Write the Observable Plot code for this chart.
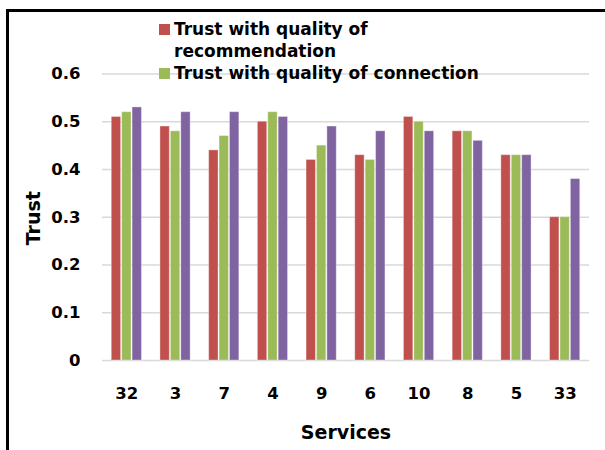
<!DOCTYPE html>
<html>
<head>
<meta charset="utf-8">
<script src="https://cdn.jsdelivr.net/npm/d3@7"></script>
<script src="https://cdn.jsdelivr.net/npm/@observablehq/plot@0.6"></script>
<style>
  html, body { margin: 0; padding: 0; background: #fff; }
  #wrap { position: relative; width: 605px; height: 450px; overflow: hidden; font-family: "DejaVu Sans", sans-serif; }
  #wrap > svg { position: absolute; left: 0; top: 0; }
  #frame { position: absolute; left: 6px; top: 9px; width: 700px; height: 600px; border-top: 3px solid #000; border-left: 3px solid #000; }
  #legend { position: absolute; left: 159px; top: 18px; font-weight: 700; font-size: 17px; color: #000; line-height: 22px; }
  .item { display: flex; align-items: flex-start; }
  .sw { width: 11px; height: 11px; margin-top: 6px; margin-right: 4px; flex: none; }
  svg text { font-family: "DejaVu Sans", sans-serif; }
</style>
</head>
<body>
<div id="wrap"></div>
<script>
const services = ["32", "3", "7", "4", "9", "6", "10", "8", "5", "33"];
const seriesNames = ["Trust with quality of recommendation", "Trust with quality of connection", "Series 3"];
const recommendation = [0.51, 0.49, 0.44, 0.50, 0.42, 0.43, 0.51, 0.48, 0.43, 0.30];
const connection     = [0.52, 0.48, 0.47, 0.52, 0.45, 0.42, 0.50, 0.48, 0.43, 0.30];
const series3        = [0.53, 0.52, 0.52, 0.51, 0.49, 0.48, 0.48, 0.46, 0.43, 0.38];
const colors = ["#C0504D", "#9BBB59", "#8064A2"];
const yTicks = [0, 0.1, 0.2, 0.3, 0.4, 0.5, 0.6];
const yTitle = ["Trust"];
const xTitle = ["Services"];
const legendLines = [["Trust with quality of", "recommendation"], ["Trust with quality of connection"]];

const valuesBySeries = [recommendation, connection, series3];
const data = [];
services.forEach((s, i) => {
  valuesBySeries.forEach((vals, j) => data.push({service: s, series: seriesNames[j], value: vals[i]}));
});

const common = {
  width: 605,
  height: 450,
  marginLeft: 102,
  marginRight: 16,
  marginTop: 73.5,
  marginBottom: 90,
  style: {fontFamily: "DejaVu Sans, sans-serif", background: "transparent", overflow: "visible"}
};

// background: gridlines, y axis and axis titles, spanning the whole plot width
const back = Plot.plot({
  ...common,
  y: {domain: [0, 0.6]},
  marks: [
    Plot.gridY(yTicks, {stroke: "#D9D9D9", strokeOpacity: 1, strokeWidth: 1.5}),
    Plot.axisY(yTicks, {
      anchor: "left", tickSize: 0, tickPadding: 22,
      tickFormat: d => d === 0 ? "0" : d.toFixed(1),
      fontSize: 16.5, fontWeight: 700, fill: "#000",
      label: null
    }),
    Plot.text(yTitle, {text: d => d, frameAnchor: "left", dx: -69, dy: 1, rotate: -90, textAnchor: "middle", lineAnchor: "middle", fontSize: 19, fontWeight: 700, fill: "#000"}),
    Plot.text(xTitle, {text: d => d, frameAnchor: "bottom", dy: 72, textAnchor: "middle", lineAnchor: "middle", fontSize: 19, fontWeight: 700, fill: "#000"})
  ]
});

// foreground: grouped bars and service axis
const front = Plot.plot({
  ...common,
  fx: {domain: services, paddingInner: 0.38, paddingOuter: 0.19, round: false},
  x: {domain: seriesNames, paddingInner: 0.1, paddingOuter: 0, round: false, axis: null},
  y: {domain: [0, 0.6], axis: null},
  color: {domain: seriesNames, range: colors},
  marks: [
    Plot.barY(data, {fx: "service", x: "series", y: "value", fill: "series", stroke: "#ffffff", strokeOpacity: 0.35, strokeWidth: 1}),
    Plot.axisFx({
      anchor: "bottom", tickSize: 0, tickPadding: 27,
      fontSize: 16.5, fontWeight: 700, fill: "#000",
      label: null
    })
  ]
});

const wrap = document.getElementById("wrap");
wrap.appendChild(back);
wrap.appendChild(front);
const frame = document.createElement("div");
frame.id = "frame";
wrap.appendChild(frame);

const legend = document.createElement("div");
legend.id = "legend";
legendLines.forEach((lines, i) => {
  const item = document.createElement("div");
  item.className = "item";
  const sw = document.createElement("div");
  sw.className = "sw";
  sw.style.background = colors[i];
  const txt = document.createElement("div");
  txt.innerHTML = lines.join("<br>");
  item.appendChild(sw);
  item.appendChild(txt);
  legend.appendChild(item);
});
wrap.appendChild(legend);
</script>
</body>
</html>
